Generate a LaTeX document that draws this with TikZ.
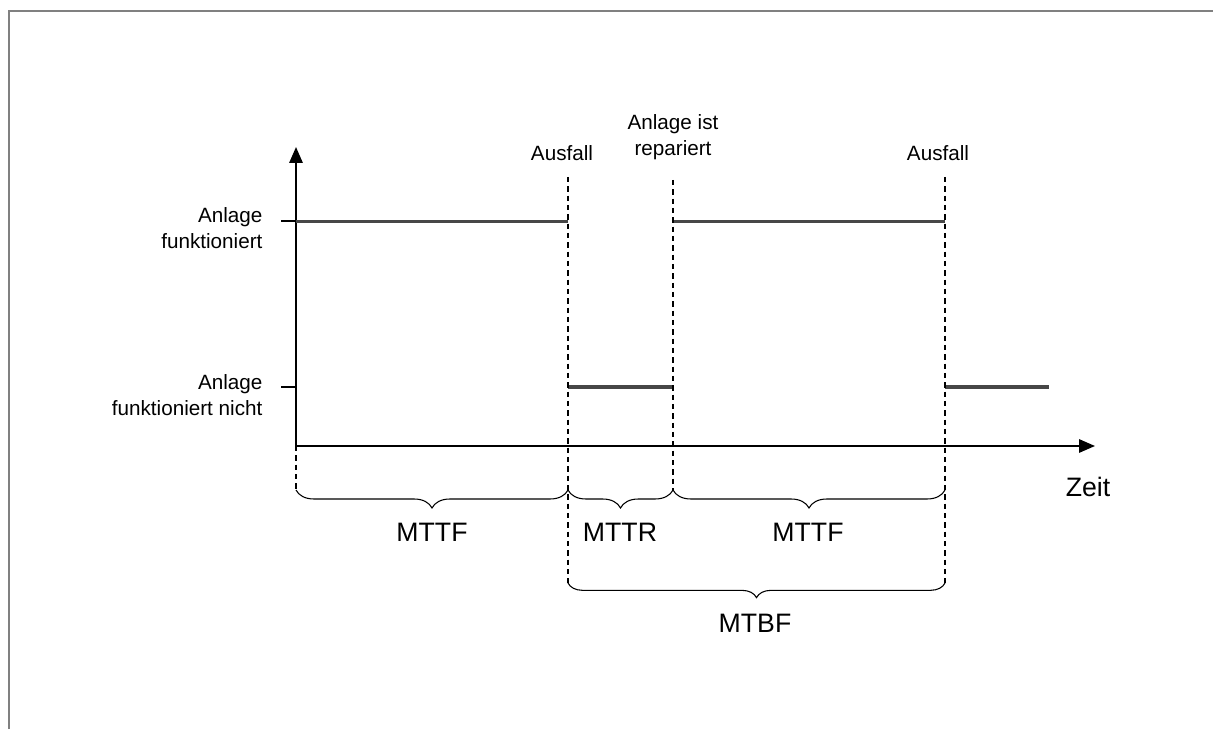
\documentclass[tikz,border=0pt]{standalone}
\usepackage{fontspec}
\setmainfont{Liberation Sans}
\usepackage{tikz}
\usetikzlibrary{arrows.meta,decorations.pathreplacing,positioning}
\tikzset{
  axis/.style={
    -{Triangle[length=12pt,width=10pt]},
    line width=1.5pt
  },
  level/.style={
    line width=2.6pt,
    draw=black!72
  },
  tick/.style={
    line width=1.5pt
  },
  marker/.style={
    dash pattern=on 4pt off 3pt,
    line width=0.9pt
  },
  span/.style={
    decorate,
    decoration={brace,mirror,amplitude=#1},
    line width=0.8pt
  },
  small/.style={
    font=\fontsize{15.5}{19}\selectfont,
    align=center,
    inner sep=1pt
  },
  big/.style={
    font=\fontsize{20}{24}\selectfont,
    inner sep=1pt
  }
}

\begin{document}
\begin{tikzpicture}[x=0.75pt,y=0.75pt]
\useasboundingbox (0,0) rectangle (1213,729);

% frame
\draw[gray, line width=1.5pt] (9,0) -- (9,718) -- (1213,718);

% axes
\coordinate (origin) at (296,283);
\coordinate (ytop) at (296,582);
\coordinate (xend) at (1095,283);
\draw[axis] (origin) -- (ytop);
\draw[axis] (origin) -- (xend);

% levels
\coordinate (hitick) at (281,507.5);
\coordinate (lotick) at (281,342);
\coordinate (hi0) at (296,507.5);
\coordinate (lo0) at (296,342);
\coordinate (hi1) at (568,507.5);
\coordinate (lo1) at (568,342);
\coordinate (lo2) at (673,342);
\coordinate (hi2) at (673,507.5);
\coordinate (hi3) at (945,507.5);
\coordinate (lo3) at (945,342);
\coordinate (lo4) at (1049,342);
\draw[tick] (hitick) -- (hi0);
\draw[tick] (lotick) -- (lo0);
\draw[level] (hi0) -- (hi1);
\draw[level] (lo1) -- (lo2);
\draw[level] (hi2) -- (hi3);
\draw[level] (lo3) -- (lo4);

% dashed markers
\coordinate (m0b) at (296,239);
\coordinate (m1t) at (568,552);
\coordinate (m1b) at (568,146);
\coordinate (m2t) at (673,549);
\coordinate (m2b) at (673,239);
\coordinate (m3t) at (945,552);
\coordinate (m3b) at (945,146);
\coordinate (m1m) at (568,239);
\coordinate (m3m) at (945,239);
\draw[marker] (origin) -- (m0b);
\draw[marker] (m1t) -- (m1b);
\draw[marker] (m2t) -- (m2b);
\draw[marker] (m3t) -- (m3b);

% braces
\draw[span=13.5pt] (m0b) -- (m1m);
\draw[span=13.5pt] (m1m) -- (m2b);
\draw[span=13.5pt] (m2b) -- (m3m);
\draw[span=11pt] (m1b) -- (m3b);

% labels
\node[small, align=right, anchor=east] (upstate) at (264,501) {Anlage\\funktioniert};
\node[small, align=right, anchor=east] (downstate) at (264,334) {Anlage\\funktioniert nicht};
\node[small] (fail1) at (562,576) {Ausfall};
\node[small] (repair) at (673,592) {Anlage ist\\repariert};
\node[small] (fail2) at (938,576) {Ausfall};
\node[big] (time) at (1088,242) {Zeit};
\node[big] (mttf1) at (432,197) {MTTF};
\node[big] (mttr) at (620,197) {MTTR};
\node[big] (mttf2) at (808,197) {MTTF};
\node[big] (mtbf) at (755,106) {MTBF};

\end{tikzpicture}
\end{document}
